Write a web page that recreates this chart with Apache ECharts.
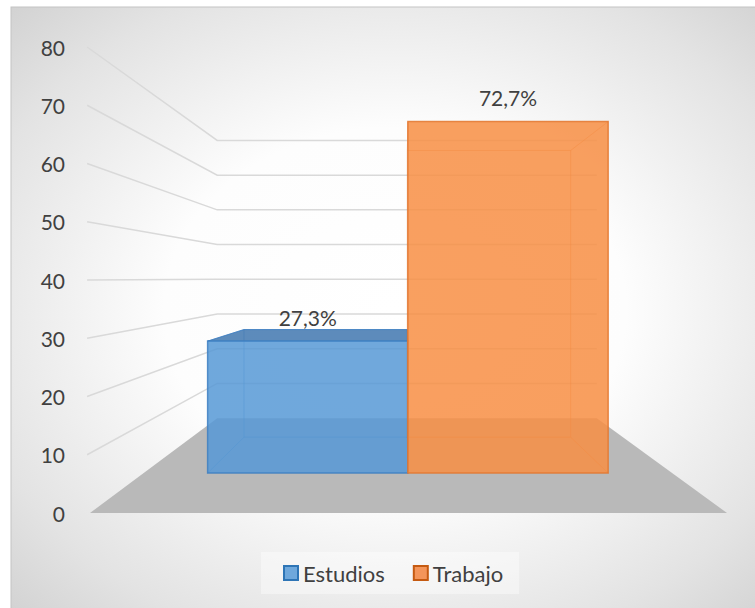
<!DOCTYPE html>
<html>
<head>
<meta charset="utf-8">
<script src="https://cdn.jsdelivr.net/npm/echarts@6/dist/echarts.min.js"></script>
<style>
  html, body { margin: 0; padding: 0; background: #fff; }
  #chart { width: 755px; height: 608px; }
</style>
</head>
<body>
<div id="chart"></div>
<script>
// ---- data ----
const categories = ['Estudios', 'Trabajo'];
const percentages = [27.3, 72.7];
const yTicks = [0, 10, 20, 30, 40, 50, 60, 70, 80];

// ---- styling ----
const FONT = 'Lato, "Open Sans", sans-serif';
const TEXT_COLOR = '#404040';
const barColors = ['#5699D6', '#F88F44'];
const edgeColors = ['#3D7EC2', '#E27730'];
const topColors = ['#3F74AD', '#D96A1E'];
const legendFill = ['#6FA8DC', '#F4955A'];
const legendEdge = ['#2E75B6', '#C55A11'];

// Simple perspective: every point is pulled toward a vanishing point by a depth factor.
const VIEW = {
  vpX: 0.985, vpValue: 40.3,   // vanishing point (axis units)
  barFront: 0.83,              // front face of the bars
  barBack: 0.677,              // back face of the bars
  wall: 0.596,                 // back wall
  xMin: -0.32, xMax: 2.32      // floor extent along the category direction
};

function projector(api) {
  const vp = api.coord([VIEW.vpX, VIEW.vpValue]);
  return function (x, v, s) {
    const p = api.coord([x, v]);
    return [vp[0] + (p[0] - vp[0]) * s, vp[1] + (p[1] - vp[1]) * s];
  };
}

// back wall, side wall grid lines and floor
function renderScene(params, api) {
  const P = projector(api);
  const children = [];
  yTicks.forEach(function (v) {
    if (v === 0) return;
    children.push({
      type: 'polyline',
      shape: { points: [P(VIEW.xMin - 0.012, v, 1), P(VIEW.xMin, v, VIEW.wall), P(VIEW.xMax, v, VIEW.wall)] },
      style: { stroke: '#d9d9d9', lineWidth: 1.5, fill: null }
    });
  });
  children.push({
    type: 'polygon',
    shape: { points: [P(VIEW.xMin, 0, 1), P(VIEW.xMax, 0, 1), P(VIEW.xMax, 0, VIEW.wall), P(VIEW.xMin, 0, VIEW.wall)] },
    style: { fill: '#b9b9b9' }
  });
  return { type: 'group', children: children };
}

function poly(points, fill, stroke, opacity, lw) {
  return {
    type: 'polygon',
    shape: { points: points },
    style: { fill: fill, stroke: stroke, lineWidth: lw || 1, opacity: opacity }
  };
}

// translucent 3D box for one category
function renderBar(params, api) {
  const i = api.value(0);
  const v = api.value(1);
  const P = projector(api);
  const f = VIEW.barFront, b = VIEW.barBack;
  const x0 = i, x1 = i + 1;
  const fTL = P(x0, v, f), fTR = P(x1, v, f), fBR = P(x1, 0, f), fBL = P(x0, 0, f);
  const bTL = P(x0, v, b), bTR = P(x1, v, b), bBR = P(x1, 0, b), bBL = P(x0, 0, b);
  const c = barColors[i], e = edgeColors[i];
  const children = [
    poly([bTL, bTR, bBR, bBL], c, e, 0.25),
    poly([fBL, fBR, bBR, bBL], c, e, 0.25),
    poly([fTL, bTL, bBL, fBL], c, e, 0.25),
    poly([fTR, bTR, bBR, fBR], c, e, 0.25)
  ];
  if (v < VIEW.vpValue) {
    children.push(poly([fTL, fTR, bTR, bTL], topColors[i], e, 0.8));
  } else {
    children.push(poly([fTL, fTR, bTR, bTL], c, e, 0.25));
  }
  children.push(poly([fTL, fTR, fBR, fBL], c, e, 0.8, 1.5));
  children.push({
    type: 'text',
    style: {
      x: (fTL[0] + fTR[0]) / 2,
      y: fTL[1] - 24,
      text: v.toFixed(1).replace('.', ',') + '%',
      fill: TEXT_COLOR,
      font: '21px ' + FONT,
      align: 'center',
      verticalAlign: 'middle'
    }
  });
  return { type: 'group', children: children };
}

const chart = echarts.init(document.getElementById('chart'), null, { renderer: 'svg' });

const series = [{
  type: 'custom',
  name: 'scene',
  coordinateSystem: 'cartesian2d',
  renderItem: renderScene,
  data: [[0, 0]],
  silent: true,
  z: 1
}].concat(categories.map(function (name, i) {
  return {
    type: 'custom',
    name: name,
    coordinateSystem: 'cartesian2d',
    renderItem: renderBar,
    encode: { x: 0, y: 1 },
    data: [[i, percentages[i]]],
    itemStyle: { color: legendFill[i], borderColor: legendEdge[i], borderWidth: 2 },
    silent: true,
    z: 3 + i
  };
}));

chart.setOption({
  backgroundColor: '#ffffff',
  animation: false,
  graphic: {
    elements: [{
      type: 'rect',
      silent: true,
      z: -10,
      x: 395, y: 310,
      scaleY: 1.2,
      shape: { x: -384, y: -252.5, width: 768, height: 505 },
      style: {
        fill: {
          type: 'radial', x: 0.5, y: 0.5, r: 0.792,
          colorStops: [
            { offset: 0, color: '#ffffff' },
            { offset: 0.38, color: '#fdfdfd' },
            { offset: 0.72, color: '#e3e3e3' },
            { offset: 1, color: '#c8c8c8' }
          ]
        },
        stroke: '#c4c4c4',
        lineWidth: 1
      }
    }]
  },
  grid: { left: 90, right: 28, top: 47, bottom: 95 },
  xAxis: {
    type: 'value', min: VIEW.xMin, max: VIEW.xMax, show: false
  },
  yAxis: {
    type: 'value', min: 0, max: 80, interval: 10,
    axisLine: { show: false },
    axisTick: { show: false },
    splitLine: { show: false },
    axisLabel: { color: TEXT_COLOR, fontSize: 21, fontFamily: FONT, margin: 25 }
  },
  legend: {
    left: 261, top: 552,
    padding: [10, 16, 10, 22],
    itemGap: 28,
    itemWidth: 14, itemHeight: 14,
    selectedMode: false,
    backgroundColor: 'rgba(255,255,255,0.4)',
    textStyle: { color: TEXT_COLOR, fontSize: 22, fontFamily: FONT },
    data: categories.map(function (name, i) {
      return { name: name, icon: 'rect', itemStyle: { color: legendFill[i], borderColor: legendEdge[i], borderWidth: 2 } };
    })
  },
  series: series
});
</script>
</body>
</html>
